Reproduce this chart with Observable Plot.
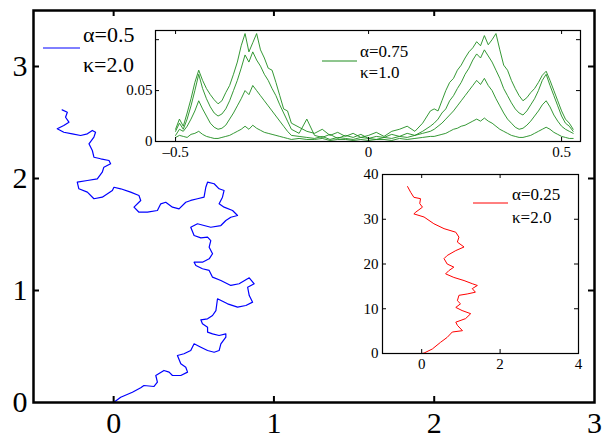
<!DOCTYPE html>
<html><head><meta charset="utf-8">
<script src="https://cdn.jsdelivr.net/npm/d3@7"></script>
<script src="https://cdn.jsdelivr.net/npm/@observablehq/plot@0.6"></script>
<style>
body{margin:0;background:#fff}
#wrap{position:relative;width:602px;height:439px;font-family:'Liberation Serif',serif;overflow:hidden}
#wrap > svg{position:absolute}
#wrap svg text{font-family:'Liberation Serif',serif !important}
</style>
</head><body><div id="wrap"></div>
<script>
// ---- main curve (alpha=0.5, kappa=2.0)
const blueX = [0,0.044,0.117,0.169,0.189,0.252,0.273,0.263,0.314,0.346,0.367,0.419,0.461,0.45,0.419,0.398,0.439,0.481,0.502,0.544,0.586,0.627,0.658,0.669,0.7,0.7,0.658,0.617,0.586,0.586,0.554,0.544,0.586,0.617,0.638,0.648,0.711,0.773,0.825,0.867,0.846,0.836,0.877,0.846,0.783,0.731,0.669,0.617,0.596,0.554,0.513,0.502,0.554,0.596,0.617,0.596,0.606,0.586,0.544,0.502,0.481,0.523,0.564,0.606,0.669,0.7,0.731,0.773,0.742,0.689,0.658,0.679,0.689,0.658,0.627,0.586,0.575,0.564,0.523,0.481,0.45,0.408,0.367,0.325,0.294,0.273,0.211,0.158,0.127,0.169,0.158,0.106,0.044,0.002,-0.008,-0.071,-0.123,-0.164,-0.217,-0.227,-0.164,-0.102,-0.071,-0.061,-0.019,-0.029,-0.081,-0.123,-0.133,-0.154,-0.123,-0.113,-0.133,-0.164,-0.206,-0.258,-0.311,-0.352,-0.311,-0.279,-0.3,-0.289,-0.321];
const blueY = [0,0.047,0.092,0.131,0.152,0.143,0.181,0.241,0.286,0.271,0.241,0.241,0.271,0.315,0.346,0.42,0.435,0.464,0.524,0.494,0.464,0.449,0.464,0.524,0.583,0.613,0.598,0.613,0.628,0.672,0.703,0.738,0.747,0.777,0.821,0.926,0.881,0.851,0.866,0.896,0.955,1.029,1.06,1.113,1.06,1.045,1.089,1.119,1.179,1.194,1.223,1.253,1.253,1.283,1.328,1.387,1.446,1.476,1.47,1.491,1.565,1.596,1.58,1.565,1.58,1.625,1.654,1.67,1.714,1.744,1.774,1.833,1.893,1.908,1.953,1.967,1.922,1.833,1.819,1.804,1.788,1.729,1.744,1.788,1.774,1.714,1.699,1.699,1.744,1.804,1.848,1.878,1.908,1.922,1.893,1.833,1.819,1.878,1.908,1.967,1.982,1.997,2.056,2.101,2.131,2.161,2.176,2.19,2.25,2.31,2.369,2.413,2.429,2.399,2.384,2.399,2.413,2.444,2.473,2.503,2.547,2.592,2.613];
const mainXTicks = [0,1,2,3];
const mainYTicks = [0,1,2,3];

// ---- top inset (alpha=0.75, kappa=1.0)
const greenX = [-0.50,-0.49,-0.48,-0.47,-0.46,-0.45,-0.44,-0.43,-0.42,-0.41,-0.40,-0.39,-0.38,-0.37,-0.36,-0.35,-0.34,-0.33,-0.32,-0.31,-0.30,-0.29,-0.28,-0.27,-0.26,-0.25,-0.24,-0.23,-0.22,-0.21,-0.20,
  -0.18,-0.16,-0.14,-0.12,-0.10,-0.08,-0.06,-0.04,-0.02,0,0.02,0.04,0.06,0.08,0.10,0.12,0.14,0.16,
  0.17,0.18,0.19,0.20,0.21,0.22,0.23,0.24,0.25,0.26,0.27,0.28,0.29,0.30,0.31,0.32,0.33,0.34,0.35,0.36,0.37,0.38,0.39,0.40,0.41,0.42,0.43,0.44,0.45,0.46,0.47,0.48,0.49,0.50,0.51,0.52,0.53];
const green1 = [0.012,0.022,0.015,0.028,0.042,0.058,0.070,0.060,0.052,0.046,0.041,0.037,0.040,0.048,0.055,0.066,0.078,0.094,0.106,0.088,0.097,0.106,0.090,0.082,0.072,0.070,0.058,0.045,0.032,0.030,0.018,
  0.014,0.010,0.008,0.012,0.006,0.009,0.005,0.008,0.004,0.006,0.009,0.005,0.010,0.012,0.015,0.010,0.018,0.030,
  0.032,0.030,0.040,0.050,0.058,0.062,0.070,0.075,0.082,0.088,0.092,0.098,0.094,0.104,0.095,0.100,0.106,0.090,0.075,0.070,0.060,0.052,0.045,0.040,0.043,0.048,0.052,0.058,0.065,0.069,0.060,0.050,0.040,0.030,0.022,0.018,0.012];
const green2 = [0.010,0.018,0.012,0.022,0.035,0.050,0.066,0.052,0.042,0.034,0.028,0.025,0.027,0.032,0.040,0.050,0.060,0.072,0.085,0.078,0.088,0.080,0.074,0.066,0.060,0.052,0.045,0.036,0.028,0.020,0.012,
  0.008,0.022,0.006,0.004,0.007,0.003,0.006,0.004,0.007,0.003,0.005,0.004,0.007,0.005,0.008,0.006,0.010,0.015,
  0.018,0.022,0.028,0.032,0.040,0.045,0.052,0.058,0.066,0.072,0.080,0.086,0.082,0.090,0.084,0.078,0.070,0.062,0.052,0.045,0.038,0.032,0.028,0.026,0.030,0.036,0.042,0.050,0.060,0.066,0.055,0.045,0.035,0.025,0.018,0.015,0.010];
const green3 = [0.006,0.012,0.010,0.015,0.022,0.030,0.040,0.032,0.025,0.018,0.014,0.012,0.013,0.016,0.022,0.028,0.035,0.042,0.050,0.046,0.055,0.050,0.045,0.040,0.035,0.030,0.025,0.020,0.015,0.010,0.006,
  0.005,0.004,0.003,0.005,0.002,0.004,0.003,0.002,0.004,0.003,0.002,0.004,0.003,0.005,0.004,0.006,0.008,0.010,
  0.012,0.015,0.018,0.022,0.026,0.030,0.035,0.040,0.045,0.050,0.055,0.060,0.056,0.062,0.055,0.050,0.042,0.035,0.028,0.022,0.018,0.014,0.012,0.013,0.016,0.020,0.025,0.030,0.036,0.040,0.034,0.026,0.020,0.015,0.012,0.010,0.008];
const green4 = [0.004,0.006,0.005,0.004,0.007,0.008,0.010,0.007,0.005,0.004,0.003,0.003,0.004,0.005,0.006,0.008,0.010,0.012,0.015,0.012,0.016,0.013,0.011,0.009,0.008,0.007,0.006,0.005,0.004,0.003,0.002,
  0.003,0.002,0.002,0.003,0.001,0.002,0.002,0.001,0.002,0.001,0.002,0.002,0.001,0.003,0.002,0.003,0.004,0.005,
  0.005,0.006,0.007,0.008,0.010,0.012,0.013,0.015,0.016,0.018,0.020,0.022,0.020,0.023,0.020,0.018,0.015,0.012,0.010,0.008,0.006,0.005,0.004,0.004,0.005,0.006,0.008,0.010,0.012,0.014,0.012,0.009,0.007,0.005,0.004,0.003,0.003];
const greenXTicks = [-0.5,0,0.5];
const greenYTicks = [0,0.05,0.1];
const greenYLabels = [0,0.05];

// ---- bottom-right inset (alpha=0.25, kappa=2.0)
const redX = [0,0.06,0.27,0.48,0.65,0.78,1.04,0.91,0.87,1.12,1.25,1.03,0.87,0.99,0.91,0.95,1.16,1.37,1.29,1.42,1.29,1.08,0.82,0.61,0.69,0.82,0.65,0.57,0.65,0.87,1.08,0.91,0.95,0.87,0.57,0.31,0.06,-0.2,-0.15,0.02,-0.05,-0.03,-0.2,-0.28,-0.36];
const redY = [0,0.1,1.0,2.5,3.6,4.8,5.1,6.3,7.0,7.8,8.9,9.6,10.3,11.1,11.8,13,13.3,13.7,14.5,15.2,15.6,16.3,17,17.8,18.5,19.3,20,21.2,21.9,23,23.8,24.9,26,27.1,27.9,29,30.5,31.2,31.6,32.7,33.5,34.6,34.9,36,37.3];
const redXTicks = [0,2,4];
const redYTicks = [0,10,20,30,40];

const fmt = d => d < 0 ? "\u2013" + Math.abs(d) : String(d);
const FONT = "'Liberation Serif', serif";

function inwardTicks(xt, yt, fw, fh, len, sw) {
  return [
    Plot.tickX(xt, {x: d => d, insetTop: fh - len, strokeWidth: sw, stroke: "black"}),
    Plot.tickX(xt, {x: d => d, insetBottom: fh - len, strokeWidth: sw, stroke: "black"}),
    Plot.tickY(yt, {y: d => d, insetRight: fw - len, strokeWidth: sw, stroke: "black"}),
    Plot.tickY(yt, {y: d => d, insetLeft: fw - len, strokeWidth: sw, stroke: "black"})
  ];
}

const wrap = document.getElementById("wrap");

// main
{
  const W = 602, H = 439, ml = 33, mr = 8, mt = 10, mb = 37;
  const blue = blueX.map((x, i) => ({x, y: blueY[i]}));
  const p = Plot.plot({
    width: W, height: H, marginLeft: ml, marginRight: mr, marginTop: mt, marginBottom: mb,
    x: {domain: [-0.5, 3]}, y: {domain: [0, 3.5]},
    style: {fontFamily: FONT, fontSize: "30px", background: "white", color: "black"},
    marks: [
      Plot.line(blue, {x: "x", y: "y", stroke: "#0000ff", strokeWidth: 1.2}),
      ...inwardTicks(mainXTicks.slice(0, 3), mainYTicks.slice(1), W - ml - mr, H - mt - mb, 6, 2),
      Plot.axisX(mainXTicks, {tickSize: 0, tickPadding: 9, tickFormat: fmt, fontSize: 30, label: null}),
      Plot.axisY(mainYTicks, {tickSize: 0, tickPadding: 6, tickFormat: fmt, fontSize: 30, label: null}),
      Plot.frame({stroke: "black", strokeWidth: 2.5})
    ]
  });
  p.style.left = "0px"; p.style.top = "0px";
  wrap.appendChild(p);
}

// top inset
{
  const W = 485, H = 138, ml = 45, mr = 15, mt = 2, mb = 25;
  const series = [green1, green2, green3, green4];
  const rows = series.flatMap((s, k) => greenX.map((x, i) => ({k, x, y: s[i]})));
  const p = Plot.plot({
    width: W, height: H, marginLeft: ml, marginRight: mr, marginTop: mt, marginBottom: mb,
    x: {domain: [-0.552, 0.549]}, y: {domain: [0, 0.109]},
    style: {fontFamily: FONT, fontSize: "15px", background: "transparent", color: "black"},
    marks: [
      Plot.line(rows, {x: "x", y: "y", z: "k", stroke: "#1e8c1e", strokeWidth: 0.9}),
      ...inwardTicks(greenXTicks, greenYTicks, W - ml - mr, H - mt - mb, 4, 1),
      Plot.axisX(greenXTicks, {tickSize: 0, tickPadding: 5, tickFormat: fmt, fontSize: 15, label: null}),
      Plot.axisY(greenYLabels, {tickSize: 0, tickPadding: 3, tickFormat: fmt, fontSize: 15, label: null}),
      Plot.frame({stroke: "black", strokeWidth: 1.2})
    ]
  });
  p.style.left = "110px"; p.style.top = "28px";
  wrap.appendChild(p);
}

// bottom-right inset
{
  const W = 243, H = 212, ml = 35, mr = 12, mt = 8, mb = 25;
  const red = redX.map((x, i) => ({x, y: redY[i]}));
  const p = Plot.plot({
    width: W, height: H, marginLeft: ml, marginRight: mr, marginTop: mt, marginBottom: mb,
    x: {domain: [-1, 4]}, y: {domain: [0, 40]},
    style: {fontFamily: FONT, fontSize: "15px", background: "transparent", color: "black"},
    marks: [
      Plot.line(red, {x: "x", y: "y", stroke: "#ff0000", strokeWidth: 1}),
      ...inwardTicks(redXTicks, redYTicks, W - ml - mr, H - mt - mb, 4, 1),
      Plot.axisX(redXTicks, {tickSize: 0, tickPadding: 5, tickFormat: fmt, fontSize: 15, label: null}),
      Plot.axisY(redYTicks, {tickSize: 0, tickPadding: 4, tickFormat: fmt, fontSize: 15, label: null}),
      Plot.frame({stroke: "black", strokeWidth: 1.2})
    ]
  });
  p.style.left = "347px"; p.style.top = "166px";
  wrap.appendChild(p);
}

// legends
{
  const svg = d3.select(wrap).append("svg")
    .attr("width", 602).attr("height", 439)
    .style("left", "0px").style("top", "0px")
    .style("pointer-events", "none");
  const legends = [
    {color: "#0000ff", x1: 43, x2: 80, ly: 48, tx: 83, t1: "\u03b1=0.5", b1: 42, t2: "\u03ba=2.0", b2: 72, fs: 22},
    {color: "#1e8c1e", x1: 322, x2: 357, ly: 61, tx: 360, t1: "\u03b1=0.75", b1: 57, t2: "\u03ba=1.0", b2: 78, fs: 17},
    {color: "#ff0000", x1: 473, x2: 508, ly: 203, tx: 512, t1: "\u03b1=0.25", b1: 200, t2: "\u03ba=2.0", b2: 223, fs: 17}
  ];
  for (const L of legends) {
    svg.append("line").attr("x1", L.x1).attr("x2", L.x2).attr("y1", L.ly).attr("y2", L.ly)
      .attr("stroke", L.color).attr("stroke-width", 1);
    svg.append("text").attr("x", L.tx).attr("y", L.b1).attr("font-size", L.fs)
      .style("font-family", FONT).text(L.t1);
    svg.append("text").attr("x", L.tx).attr("y", L.b2).attr("font-size", L.fs)
      .style("font-family", FONT).text(L.t2);
  }
}
</script>
</body></html>
